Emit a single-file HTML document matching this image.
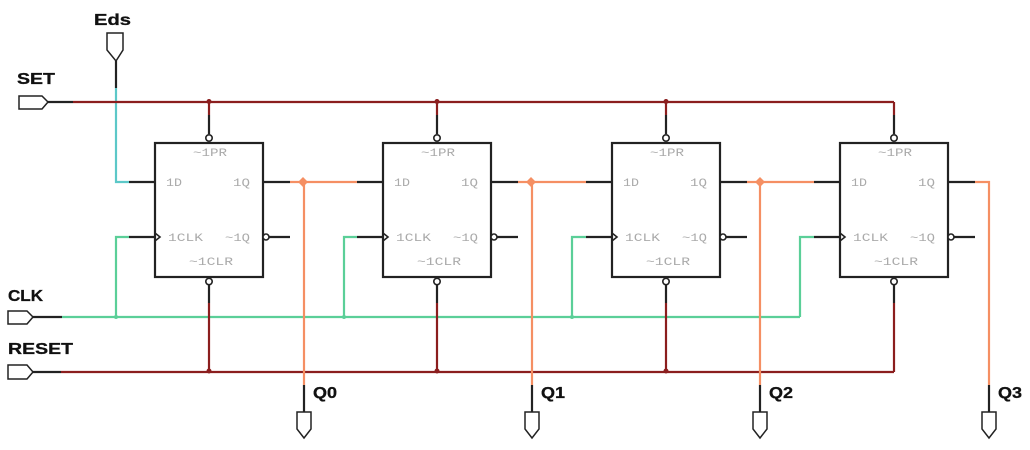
<!DOCTYPE html>
<html>
<head>
<meta charset="utf-8">
<style>
html,body{margin:0;padding:0;background:#fff;}
svg{display:block;}
.lbl{font-family:"Liberation Sans",sans-serif;font-weight:bold;font-size:16px;fill:#111;stroke:#111;stroke-width:0.3px;}
.bt{font-family:"Liberation Mono",monospace;font-size:11px;fill:#aaaaaa;}
</style>
</head>
<body>
<svg width="1030" height="450" viewBox="0 0 1030 450" xmlns="http://www.w3.org/2000/svg">
<rect width="1030" height="450" fill="#fff"/>

<!-- Labels -->
<text class="lbl" x="94" y="25" textLength="37" lengthAdjust="spacingAndGlyphs">Eds</text>
<text class="lbl" x="17" y="84" textLength="38" lengthAdjust="spacingAndGlyphs">SET</text>
<text class="lbl" x="8" y="301" textLength="35" lengthAdjust="spacingAndGlyphs">CLK</text>
<text class="lbl" x="8" y="354" textLength="65" lengthAdjust="spacingAndGlyphs">RESET</text>
<text class="lbl" x="313" y="398" textLength="24" lengthAdjust="spacingAndGlyphs">Q0</text>
<text class="lbl" x="541" y="398" textLength="24" lengthAdjust="spacingAndGlyphs">Q1</text>
<text class="lbl" x="769" y="398" textLength="24" lengthAdjust="spacingAndGlyphs">Q2</text>
<text class="lbl" x="998" y="398" textLength="24" lengthAdjust="spacingAndGlyphs">Q3</text>

<!-- Input pins -->
<g fill="#fff" stroke="#222" stroke-width="1.5">
  <polygon points="107,33 123,33 123,50 116,61 107,50"/>
  <polygon points="19,96 42,96 48,102 42,109 19,109"/>
  <polygon points="8,311 27,311 33,317 27,324 8,324"/>
  <polygon points="8,365 27,365 33,372 27,379 8,379"/>
  <polygon points="297,412 311,412 311,429 304,438 297,429"/>
  <polygon points="525,412 539,412 539,429 532,438 525,429"/>
  <polygon points="753,412 767,412 767,429 760,438 753,429"/>
  <polygon points="982,412 996,412 996,429 989,438 982,429"/>
</g>

<!-- Black stubs from pins -->
<g stroke="#222" stroke-width="2.2" fill="none">
  <line x1="116" y1="61" x2="116" y2="88"/>
  <line x1="48" y1="102" x2="73" y2="102"/>
  <line x1="33" y1="317" x2="62" y2="317"/>
  <line x1="33" y1="372" x2="61" y2="372"/>
  <line x1="304" y1="385" x2="304" y2="412"/>
  <line x1="532" y1="385" x2="532" y2="412"/>
  <line x1="760" y1="385" x2="760" y2="412"/>
  <line x1="989" y1="385" x2="989" y2="412"/>
</g>

<!-- Cyan Eds wire -->
<polyline points="116,88 116,182 129,182" fill="none" stroke="#5cc8c8" stroke-width="2.2"/>

<!-- SET / RESET dark red -->
<g stroke="#8b1e1e" stroke-width="2.2" fill="none">
  <line x1="73" y1="102" x2="894" y2="102"/>
  <line x1="61" y1="372" x2="894" y2="372"/>
</g>
<g fill="#8b1e1e">
  <circle cx="209" cy="101.5" r="2.5"/>
  <circle cx="437" cy="101.5" r="2.5"/>
  <circle cx="666" cy="101.5" r="2.5"/>
  <circle cx="209" cy="371" r="2.5"/>
  <circle cx="437" cy="371" r="2.5"/>
  <circle cx="666" cy="371" r="2.5"/>
</g>

<!-- CLK green -->
<g stroke="#5bcf98" stroke-width="2.2" fill="none">
  <line x1="62" y1="317" x2="800" y2="317"/>
  <polyline points="116,317 116,237 129,237"/>
  <polyline points="344,317 344,237 357,237"/>
  <polyline points="572,317 572,237 586,237"/>
  <polyline points="800,317 800,237 814,237"/>
</g>
<g fill="#5bcf98">
  <circle cx="116" cy="317" r="2"/>
  <circle cx="344" cy="317" r="2"/>
  <circle cx="572" cy="317" r="2"/>
</g>

<!-- Orange Q wires -->
<g stroke="#f58f63" stroke-width="2.2" fill="none">
  <line x1="290" y1="182" x2="357" y2="182"/>
  <line x1="518" y1="182" x2="586" y2="182"/>
  <line x1="747" y1="182" x2="814" y2="182"/>
  <polyline points="975,182 989,182 989,385"/>
  <line x1="304" y1="182" x2="304" y2="385"/>
  <line x1="532" y1="182" x2="532" y2="385"/>
  <line x1="760" y1="182" x2="760" y2="385"/>
</g>
<g fill="#f58f63">
  <polygon points="303,177 308,182 303,187 298,182"/>
  <polygon points="531,177 536,182 531,187 526,182"/>
  <polygon points="760,177 765,182 760,187 755,182"/>
</g>

<!-- Flip-flop boxes -->
<g>
  <line x1="209" y1="102" x2="209" y2="115" stroke="#8b1e1e" stroke-width="2.2"/>
  <line x1="209" y1="115" x2="209" y2="134" stroke="#222" stroke-width="2.2"/>
  <line x1="209" y1="284" x2="209" y2="303" stroke="#222" stroke-width="2.2"/>
  <line x1="209" y1="303" x2="209" y2="372" stroke="#8b1e1e" stroke-width="2.2"/>
  <rect x="155" y="143" width="108" height="134" fill="#fff" stroke="#222" stroke-width="2.2"/>
  <circle cx="209" cy="138" r="3.2" fill="#fff" stroke="#222" stroke-width="1.6"/>
  <circle cx="209" cy="281.5" r="3.2" fill="#fff" stroke="#222" stroke-width="1.6"/>
  <g stroke="#222" stroke-width="2.2">
    <line x1="129" y1="182" x2="155" y2="182"/>
    <line x1="263" y1="182" x2="290" y2="182"/>
    <line x1="129" y1="237" x2="155" y2="237"/>
    <line x1="269" y1="237" x2="290" y2="237"/>
  </g>
  <polyline points="155,233 160,237 155,241" fill="none" stroke="#222" stroke-width="1.6"/>
  <circle cx="266" cy="237" r="3" fill="#fff" stroke="#222" stroke-width="1.6"/>
  <text class="bt" x="193" y="156" textLength="34" lengthAdjust="spacingAndGlyphs">~1PR</text>
  <text class="bt" x="166" y="186" textLength="16" lengthAdjust="spacingAndGlyphs">1D</text>
  <text class="bt" x="233" y="186" textLength="17" lengthAdjust="spacingAndGlyphs">1Q</text>
  <text class="bt" x="168" y="241" textLength="35" lengthAdjust="spacingAndGlyphs">1CLK</text>
  <text class="bt" x="225" y="241" textLength="25" lengthAdjust="spacingAndGlyphs">~1Q</text>
  <text class="bt" x="189" y="265" textLength="44" lengthAdjust="spacingAndGlyphs">~1CLR</text>
</g>

<g transform="translate(228,0)">
  <line x1="209" y1="102" x2="209" y2="115" stroke="#8b1e1e" stroke-width="2.2"/>
  <line x1="209" y1="115" x2="209" y2="134" stroke="#222" stroke-width="2.2"/>
  <line x1="209" y1="284" x2="209" y2="303" stroke="#222" stroke-width="2.2"/>
  <line x1="209" y1="303" x2="209" y2="372" stroke="#8b1e1e" stroke-width="2.2"/>
  <rect x="155" y="143" width="108" height="134" fill="#fff" stroke="#222" stroke-width="2.2"/>
  <circle cx="209" cy="138" r="3.2" fill="#fff" stroke="#222" stroke-width="1.6"/>
  <circle cx="209" cy="281.5" r="3.2" fill="#fff" stroke="#222" stroke-width="1.6"/>
  <g stroke="#222" stroke-width="2.2">
    <line x1="129" y1="182" x2="155" y2="182"/>
    <line x1="263" y1="182" x2="290" y2="182"/>
    <line x1="129" y1="237" x2="155" y2="237"/>
    <line x1="269" y1="237" x2="290" y2="237"/>
  </g>
  <polyline points="155,233 160,237 155,241" fill="none" stroke="#222" stroke-width="1.6"/>
  <circle cx="266" cy="237" r="3" fill="#fff" stroke="#222" stroke-width="1.6"/>
  <text class="bt" x="193" y="156" textLength="34" lengthAdjust="spacingAndGlyphs">~1PR</text>
  <text class="bt" x="166" y="186" textLength="16" lengthAdjust="spacingAndGlyphs">1D</text>
  <text class="bt" x="233" y="186" textLength="17" lengthAdjust="spacingAndGlyphs">1Q</text>
  <text class="bt" x="168" y="241" textLength="35" lengthAdjust="spacingAndGlyphs">1CLK</text>
  <text class="bt" x="225" y="241" textLength="25" lengthAdjust="spacingAndGlyphs">~1Q</text>
  <text class="bt" x="189" y="265" textLength="44" lengthAdjust="spacingAndGlyphs">~1CLR</text>
</g>

<g transform="translate(457,0)">
  <line x1="209" y1="102" x2="209" y2="115" stroke="#8b1e1e" stroke-width="2.2"/>
  <line x1="209" y1="115" x2="209" y2="134" stroke="#222" stroke-width="2.2"/>
  <line x1="209" y1="284" x2="209" y2="303" stroke="#222" stroke-width="2.2"/>
  <line x1="209" y1="303" x2="209" y2="372" stroke="#8b1e1e" stroke-width="2.2"/>
  <rect x="155" y="143" width="108" height="134" fill="#fff" stroke="#222" stroke-width="2.2"/>
  <circle cx="209" cy="138" r="3.2" fill="#fff" stroke="#222" stroke-width="1.6"/>
  <circle cx="209" cy="281.5" r="3.2" fill="#fff" stroke="#222" stroke-width="1.6"/>
  <g stroke="#222" stroke-width="2.2">
    <line x1="129" y1="182" x2="155" y2="182"/>
    <line x1="263" y1="182" x2="290" y2="182"/>
    <line x1="129" y1="237" x2="155" y2="237"/>
    <line x1="269" y1="237" x2="290" y2="237"/>
  </g>
  <polyline points="155,233 160,237 155,241" fill="none" stroke="#222" stroke-width="1.6"/>
  <circle cx="266" cy="237" r="3" fill="#fff" stroke="#222" stroke-width="1.6"/>
  <text class="bt" x="193" y="156" textLength="34" lengthAdjust="spacingAndGlyphs">~1PR</text>
  <text class="bt" x="166" y="186" textLength="16" lengthAdjust="spacingAndGlyphs">1D</text>
  <text class="bt" x="233" y="186" textLength="17" lengthAdjust="spacingAndGlyphs">1Q</text>
  <text class="bt" x="168" y="241" textLength="35" lengthAdjust="spacingAndGlyphs">1CLK</text>
  <text class="bt" x="225" y="241" textLength="25" lengthAdjust="spacingAndGlyphs">~1Q</text>
  <text class="bt" x="189" y="265" textLength="44" lengthAdjust="spacingAndGlyphs">~1CLR</text>
</g>

<g transform="translate(685,0)">
  <line x1="209" y1="102" x2="209" y2="115" stroke="#8b1e1e" stroke-width="2.2"/>
  <line x1="209" y1="115" x2="209" y2="134" stroke="#222" stroke-width="2.2"/>
  <line x1="209" y1="284" x2="209" y2="303" stroke="#222" stroke-width="2.2"/>
  <line x1="209" y1="303" x2="209" y2="372" stroke="#8b1e1e" stroke-width="2.2"/>
  <rect x="155" y="143" width="108" height="134" fill="#fff" stroke="#222" stroke-width="2.2"/>
  <circle cx="209" cy="138" r="3.2" fill="#fff" stroke="#222" stroke-width="1.6"/>
  <circle cx="209" cy="281.5" r="3.2" fill="#fff" stroke="#222" stroke-width="1.6"/>
  <g stroke="#222" stroke-width="2.2">
    <line x1="129" y1="182" x2="155" y2="182"/>
    <line x1="263" y1="182" x2="290" y2="182"/>
    <line x1="129" y1="237" x2="155" y2="237"/>
    <line x1="269" y1="237" x2="290" y2="237"/>
  </g>
  <polyline points="155,233 160,237 155,241" fill="none" stroke="#222" stroke-width="1.6"/>
  <circle cx="266" cy="237" r="3" fill="#fff" stroke="#222" stroke-width="1.6"/>
  <text class="bt" x="193" y="156" textLength="34" lengthAdjust="spacingAndGlyphs">~1PR</text>
  <text class="bt" x="166" y="186" textLength="16" lengthAdjust="spacingAndGlyphs">1D</text>
  <text class="bt" x="233" y="186" textLength="17" lengthAdjust="spacingAndGlyphs">1Q</text>
  <text class="bt" x="168" y="241" textLength="35" lengthAdjust="spacingAndGlyphs">1CLK</text>
  <text class="bt" x="225" y="241" textLength="25" lengthAdjust="spacingAndGlyphs">~1Q</text>
  <text class="bt" x="189" y="265" textLength="44" lengthAdjust="spacingAndGlyphs">~1CLR</text>
</g>
</svg>
</body>
</html>
